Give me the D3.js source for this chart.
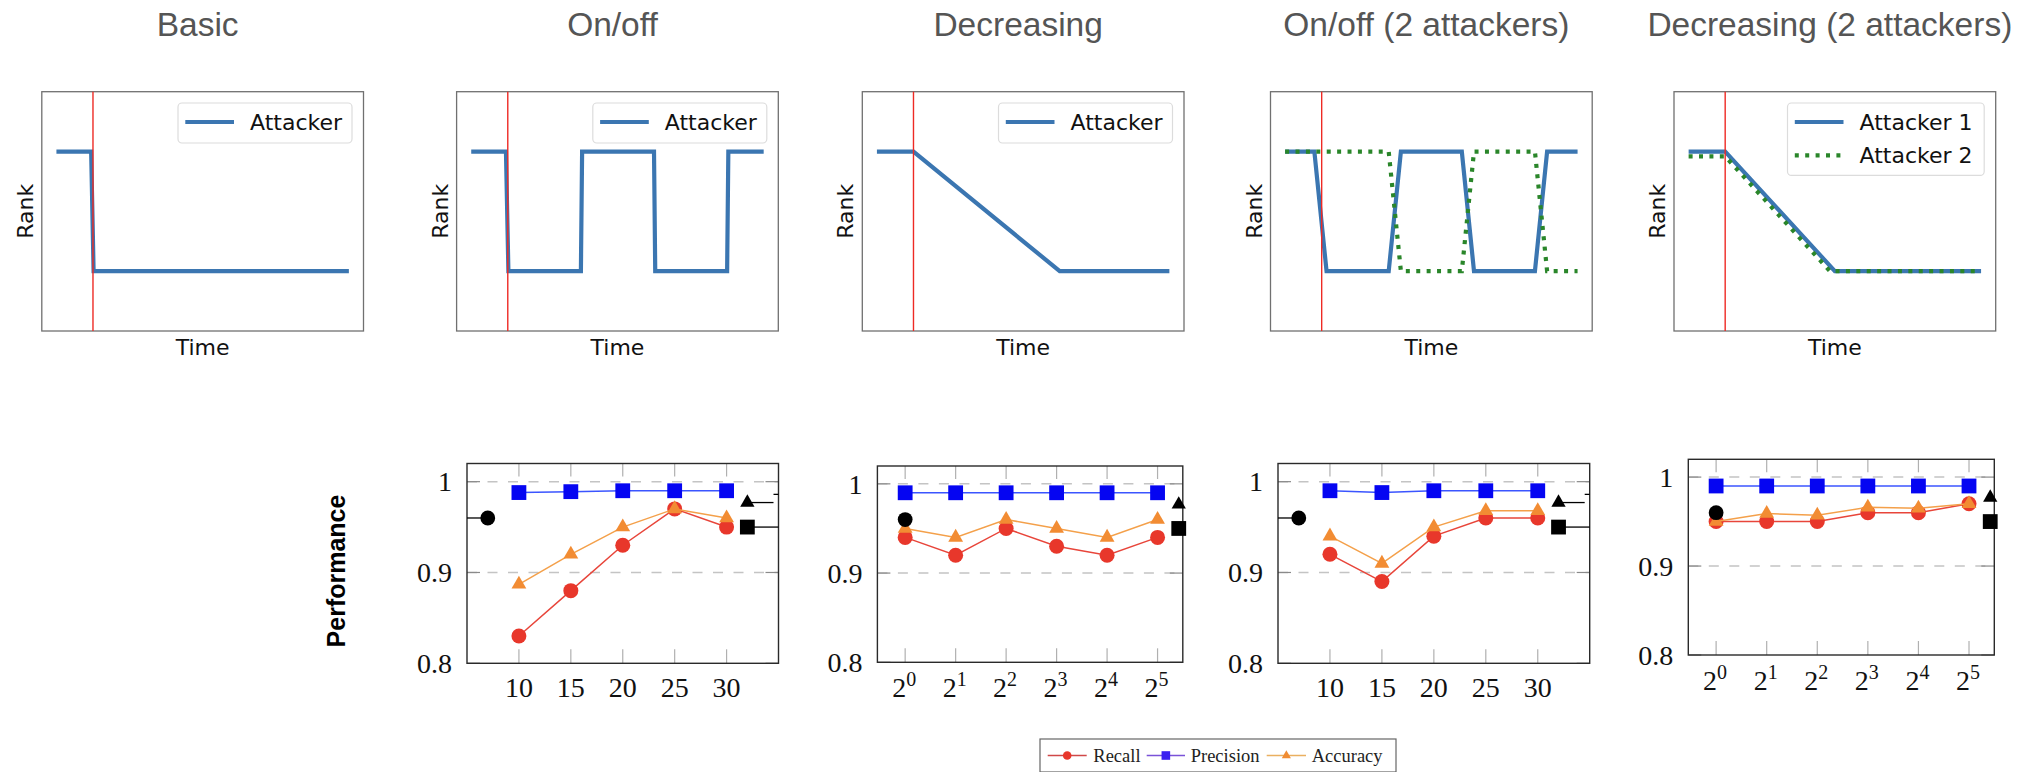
<!DOCTYPE html>
<html><head><meta charset="utf-8">
<script src="https://cdn.jsdelivr.net/npm/d3@7"></script>
<style>body{margin:0;background:#fff;} svg{display:block;}</style>
</head><body>
<svg id="c" width="2027" height="772"></svg>
<script>
// ================= DATA =================
const topTitles = ["Basic", "On/off", "Decreasing", "On/off (2 attackers)", "Decreasing (2 attackers)"];
const attackStart = 3;
const timeDomain = [-1.2, 25.2];
const rankDomain = [-0.5, 1.5];
const basicAttacker   = [[0,1],[2.85,1],[3.05,0],[24,0]];
const onoffAttacker   = [[0,1],[2.85,1],[3.05,0],[9,0],[9.1,1],[15,1],[15.1,0],[21,0],[21.1,1],[24,1]];
const decAttacker     = [[0,1],[3,1],[15,0],[24,0]];
const onoff2Attacker1 = [[0,1],[2.4,1],[3.4,0],[8.5,0],[9.5,1],[14.5,1],[15.5,0],[20.5,0],[21.5,1],[24,1]];
const onoff2Attacker2 = [[0,1],[8.5,1],[9.5,0],[14.5,0],[15.5,1],[20.5,1],[21.5,0],[24,0]];
const dec2Attacker1   = [[0,1],[3,1],[12,0],[24,0]];
const dec2Attacker2   = [[0,0.96],[3,0.96],[11.6,0],[24,0]];

const colluders = [10, 15, 20, 25, 30];
const rates = [1, 2, 4, 8, 16, 32];
const rateExponents = ["0", "1", "2", "3", "4", "5"];
const perfTicks = [0.8, 0.9, 1];
const gridTicks = [0.9, 1];

const onoffRecall     = [0.83, 0.88, 0.93, 0.97, 0.95];
const onoffPrecision  = [0.988, 0.989, 0.99, 0.99, 0.99];
const onoffAccuracy   = [0.887, 0.92, 0.95, 0.97, 0.96];

const decRecall       = [0.94, 0.92, 0.95, 0.93, 0.92, 0.94];
const decPrecision    = [0.99, 0.99, 0.99, 0.99, 0.99, 0.99];
const decAccuracy     = [0.95, 0.94, 0.96, 0.95, 0.94, 0.96];

const onoff2Recall    = [0.92, 0.89, 0.94, 0.96, 0.96];
const onoff2Precision = [0.99, 0.988, 0.99, 0.99, 0.99];
const onoff2Accuracy  = [0.94, 0.91, 0.95, 0.968, 0.968];

const dec2Recall      = [0.95, 0.95, 0.95, 0.96, 0.96, 0.97];
const dec2Precision   = [0.99, 0.99, 0.99, 0.99, 0.99, 0.99];
const dec2Accuracy    = [0.95, 0.959, 0.957, 0.966, 0.965, 0.97];

const baselineRecall = 0.96;     // circle
const baselinePrecision = 0.95;  // square
const baselineAccuracy = 0.977;  // triangle
const baselineTick = 0.986;
const baselineXLinear = [7, 32];
const baselineXLog = [1, 42.8];

const legendLabels = ["Recall", "Precision", "Accuracy"];

// ================= DRAWING =================
const svg = d3.select("#c");
const BLUE = "#3b76b1", GREEN = "#2a862a", RED = "#ee2a24";

const topLefts = [41.8, 456.6, 862.3, 1270.5, 1674];
const topW = 321.7, topTop = 91.7, topH = 239.3;

const topPanels = [
  {series: [{d: basicAttacker, label: "Attacker", dotted: false}]},
  {series: [{d: onoffAttacker, label: "Attacker", dotted: false}]},
  {series: [{d: decAttacker, label: "Attacker", dotted: false}]},
  {series: [{d: onoff2Attacker1, label: "Attacker 1", dotted: false}, {d: onoff2Attacker2, label: "Attacker 2", dotted: true}], noLegend: true},
  {series: [{d: dec2Attacker1, label: "Attacker 1", dotted: false}, {d: dec2Attacker2, label: "Attacker 2", dotted: true}]}
];

topPanels.forEach((p, i) => {
  const L = topLefts[i];
  const x = d3.scaleLinear().domain(timeDomain).range([L, L + topW]);
  const y = d3.scaleLinear().domain(rankDomain).range([topTop + topH, topTop]);
  const g = svg.append("g");
  g.append("text").attr("x", L + topW / 2 - 5).attr("y", 36)
    .attr("text-anchor", "middle").attr("font-family", "Liberation Sans, Arial, sans-serif")
    .attr("font-size", 33.5).attr("fill", "#555").text(topTitles[i]);
  g.append("rect").attr("x", L).attr("y", topTop).attr("width", topW).attr("height", topH)
    .attr("fill", "#fff").attr("stroke", "#707070").attr("stroke-width", 1.3);
  const clipId = "clipT" + i;
  svg.append("clipPath").attr("id", clipId).append("rect")
    .attr("x", L).attr("y", topTop).attr("width", topW).attr("height", topH);
  const line = d3.line().x(d => x(d[0])).y(d => y(d[1]));
  p.series.forEach(s => {
    g.append("path").attr("d", line(s.d)).attr("fill", "none")
      .attr("clip-path", `url(#${clipId})`)
      .attr("stroke", s.dotted ? GREEN : BLUE).attr("stroke-width", 4.2)
      .attr("stroke-dasharray", s.dotted ? "4,6.4" : null)
      .attr("stroke-linejoin", "miter");
  });
  g.append("line").attr("x1", x(attackStart)).attr("x2", x(attackStart))
    .attr("y1", topTop).attr("y2", topTop + topH).attr("stroke", RED).attr("stroke-width", 1.4);
  g.append("text").attr("x", L + topW / 2).attr("y", topTop + topH + 24)
    .attr("text-anchor", "middle").attr("font-family", "DejaVu Sans, sans-serif")
    .attr("font-size", 22).attr("fill", "#111").text("Time");
  g.append("text").attr("transform", `translate(${L - 9},${topTop + topH / 2}) rotate(-90)`)
    .attr("text-anchor", "middle").attr("font-family", "DejaVu Sans, sans-serif")
    .attr("font-size", 22).attr("fill", "#111").text("Rank");
  if (!p.noLegend) {
    const n = p.series.length;
    const bw = n > 1 ? 196.7 : 174, bh = n > 1 ? 72.4 : 40;
    const bx = L + topW - 11.5 - bw, by = topTop + 11.3;
    g.append("rect").attr("x", bx).attr("y", by).attr("width", bw).attr("height", bh)
      .attr("rx", 4).attr("fill", "#fff").attr("fill-opacity", 0.85)
      .attr("stroke", "#dcdcdc").attr("stroke-width", 1.2);
    p.series.forEach((s, k) => {
      const ly = by + 19 + k * 33.3;
      g.append("line").attr("x1", bx + 7.3).attr("x2", bx + 56).attr("y1", ly).attr("y2", ly)
        .attr("stroke", s.dotted ? GREEN : BLUE).attr("stroke-width", 4.2)
        .attr("stroke-dasharray", s.dotted ? "4,6.4" : null);
      g.append("text").attr("x", bx + 72).attr("y", ly).attr("dy", "0.36em")
        .attr("font-family", "DejaVu Sans, sans-serif").attr("font-size", 22)
        .attr("fill", "#111").text(s.label);
    });
  }
});

// ---------- bottom panels ----------
const C_RECALL = "#e8372b", C_RECALL_L = "#e8453a";
const C_PREC = "#0505f2", C_PREC_L = "#3b55ff";
const C_ACC = "#f28c33", C_ACC_L = "#f4a04a";

const bottomPanels = [
  {left: 467, top: 463.5, w: 311.5, h: 199.8, type: "lin", xs: colluders, r: onoffRecall, p: onoffPrecision, a: onoffAccuracy},
  {left: 877.4, top: 466, w: 305.4, h: 196.3, type: "log", xs: rates, r: decRecall, p: decPrecision, a: decAccuracy},
  {left: 1278, top: 463.5, w: 311.7, h: 199.8, type: "lin", xs: colluders, r: onoff2Recall, p: onoff2Precision, a: onoff2Accuracy},
  {left: 1688.3, top: 459.3, w: 306, h: 195.7, type: "log", xs: rates, r: dec2Recall, p: dec2Precision, a: dec2Accuracy}
];

const serif = "Liberation Serif, 'DejaVu Serif', serif";
const triPath = s => d3.symbol().type(d3.symbolTriangle).size(s)();

bottomPanels.forEach((P, i) => {
  const g = svg.append("g");
  const x = P.type === "lin"
    ? d3.scaleLinear().domain([5, 35]).range([P.left, P.left + P.w])
    : d3.scaleLog().base(2).domain([Math.pow(2, -0.55), Math.pow(2, 5.5)]).range([P.left, P.left + P.w]);
  const y = d3.scaleLinear().domain([0.8, 1.02]).range([P.top + P.h, P.top]);
  const R = P.left + P.w, B = P.top + P.h;

  g.append("rect").attr("x", P.left).attr("y", P.top).attr("width", P.w).attr("height", P.h).attr("fill", "#fff");
  gridTicks.forEach(t => {
    g.append("line").attr("x1", P.left).attr("x2", R).attr("y1", y(t)).attr("y2", y(t))
      .attr("stroke", "#c4c4c4").attr("stroke-width", 1.5).attr("stroke-dasharray", "10,10.5");
  });
  perfTicks.forEach(t => {
    [[P.left, P.left + 13], [R - 13, R]].forEach(([a, b]) => {
      g.append("line").attr("x1", a).attr("x2", b).attr("y1", y(t)).attr("y2", y(t))
        .attr("stroke", "#8a8a8a").attr("stroke-width", 1.2);
    });
    g.append("text").attr("x", P.left - 15).attr("y", y(t)).attr("dy", "0.35em")
      .attr("text-anchor", "end").attr("font-family", serif).attr("font-size", 28)
      .attr("fill", "#111").text(t === 1 ? "1" : t.toFixed(1));
  });
  P.xs.forEach((v, k) => {
    [[P.top, P.top + 13], [B - 14, B]].forEach(([a, b]) => {
      g.append("line").attr("x1", x(v)).attr("x2", x(v)).attr("y1", a).attr("y2", b)
        .attr("stroke", "#b0b0b0").attr("stroke-width", 1.2);
    });
    if (P.type === "lin") {
      g.append("text").attr("x", x(v)).attr("y", B + 34).attr("text-anchor", "middle")
        .attr("font-family", serif).attr("font-size", 28).attr("fill", "#111").text(v);
    } else {
      const t = g.append("text").attr("x", x(v) - 1).attr("y", B + 35).attr("text-anchor", "middle")
        .attr("font-family", serif).attr("font-size", 28).attr("fill", "#111");
      t.append("tspan").text("2");
      t.append("tspan").attr("dy", -11).attr("font-size", 20).text(rateExponents[k]);
    }
  });
  g.append("rect").attr("x", P.left).attr("y", P.top).attr("width", P.w).attr("height", P.h)
    .attr("fill", "none").attr("stroke", "#2a2a2a").attr("stroke-width", 1.4);

  const ln = d3.line();
  const pts = arr => P.xs.map((v, k) => [x(v), y(arr[k])]);
  g.append("path").attr("d", ln(pts(P.r))).attr("fill", "none").attr("stroke", C_RECALL_L).attr("stroke-width", 1.5);
  pts(P.r).forEach(q => g.append("circle").attr("cx", q[0]).attr("cy", q[1]).attr("r", 7.5).attr("fill", C_RECALL));
  g.append("path").attr("d", ln(pts(P.p))).attr("fill", "none").attr("stroke", C_PREC_L).attr("stroke-width", 1.5);
  pts(P.p).forEach(q => g.append("rect").attr("x", q[0] - 7.4).attr("y", q[1] - 7.4).attr("width", 14.8).attr("height", 14.8).attr("fill", C_PREC));
  g.append("path").attr("d", ln(pts(P.a))).attr("fill", "none").attr("stroke", C_ACC_L).attr("stroke-width", 1.5);
  pts(P.a).forEach(q => g.append("path").attr("d", triPath(95)).attr("transform", `translate(${q[0]},${q[1]})`).attr("fill", C_ACC));

  const bx = P.type === "lin" ? baselineXLinear : baselineXLog;
  const cx = x(bx[0]), rx = x(bx[1]);
  if (P.type === "lin") {
    g.append("line").attr("x1", P.left).attr("x2", cx).attr("y1", y(baselineRecall)).attr("y2", y(baselineRecall)).attr("stroke", "#000").attr("stroke-width", 1.3);
    g.append("line").attr("x1", rx).attr("x2", R - 5).attr("y1", y(baselineAccuracy)).attr("y2", y(baselineAccuracy)).attr("stroke", "#000").attr("stroke-width", 1.3);
    g.append("line").attr("x1", R - 5).attr("x2", R).attr("y1", y(baselineTick)).attr("y2", y(baselineTick)).attr("stroke", "#000").attr("stroke-width", 1.3);
    g.append("line").attr("x1", rx).attr("x2", R).attr("y1", y(baselinePrecision)).attr("y2", y(baselinePrecision)).attr("stroke", "#000").attr("stroke-width", 1.3);
  }
  g.append("circle").attr("cx", cx).attr("cy", y(baselineRecall)).attr("r", 7.4).attr("fill", "#000");
  g.append("rect").attr("x", rx - 7.4).attr("y", y(baselinePrecision) - 7.4).attr("width", 14.8).attr("height", 14.8).attr("fill", "#000");
  g.append("path").attr("d", triPath(88)).attr("transform", `translate(${rx},${y(baselineAccuracy)})`).attr("fill", "#000");
});

svg.append("text").attr("transform", "translate(344.5,571) rotate(-90)")
  .attr("text-anchor", "middle").attr("font-family", "Liberation Sans, Arial, sans-serif")
  .attr("font-weight", "bold").attr("font-size", 25).attr("fill", "#000").text("Performance");

const lg = svg.append("g");
lg.append("rect").attr("x", 1040).attr("y", 739).attr("width", 356).attr("height", 33)
  .attr("fill", "#fff").attr("stroke", "#666").attr("stroke-width", 1.2);
const legItems = [
  {x0: 1047.7, x1: 1086.7, tx: 1093.3, c: "#d04848", m: "#e8372b", shape: "circle"},
  {x0: 1146.7, x1: 1185, tx: 1190.7, c: "#7a52d8", m: "#3a20f0", shape: "square"},
  {x0: 1266.7, x1: 1306, tx: 1311.7, c: "#eab060", m: "#f08c33", shape: "tri"}
];
legItems.forEach((it, k) => {
  const ly = 755.5, mx = (it.x0 + it.x1) / 2;
  lg.append("line").attr("x1", it.x0).attr("x2", it.x1).attr("y1", ly).attr("y2", ly).attr("stroke", it.c).attr("stroke-width", 1.4);
  if (it.shape === "circle") lg.append("circle").attr("cx", mx).attr("cy", ly).attr("r", 4.3).attr("fill", it.m);
  else if (it.shape === "square") lg.append("rect").attr("x", mx - 4.3).attr("y", ly - 4.3).attr("width", 8.6).attr("height", 8.6).attr("fill", it.m);
  else lg.append("path").attr("d", triPath(36)).attr("transform", `translate(${mx},${ly})`).attr("fill", it.m);
  lg.append("text").attr("x", it.tx).attr("y", ly).attr("dy", "0.35em")
    .attr("font-family", serif).attr("font-size", 18.5).attr("fill", "#222").text(legendLabels[k]);
});
</script>
</body></html>
